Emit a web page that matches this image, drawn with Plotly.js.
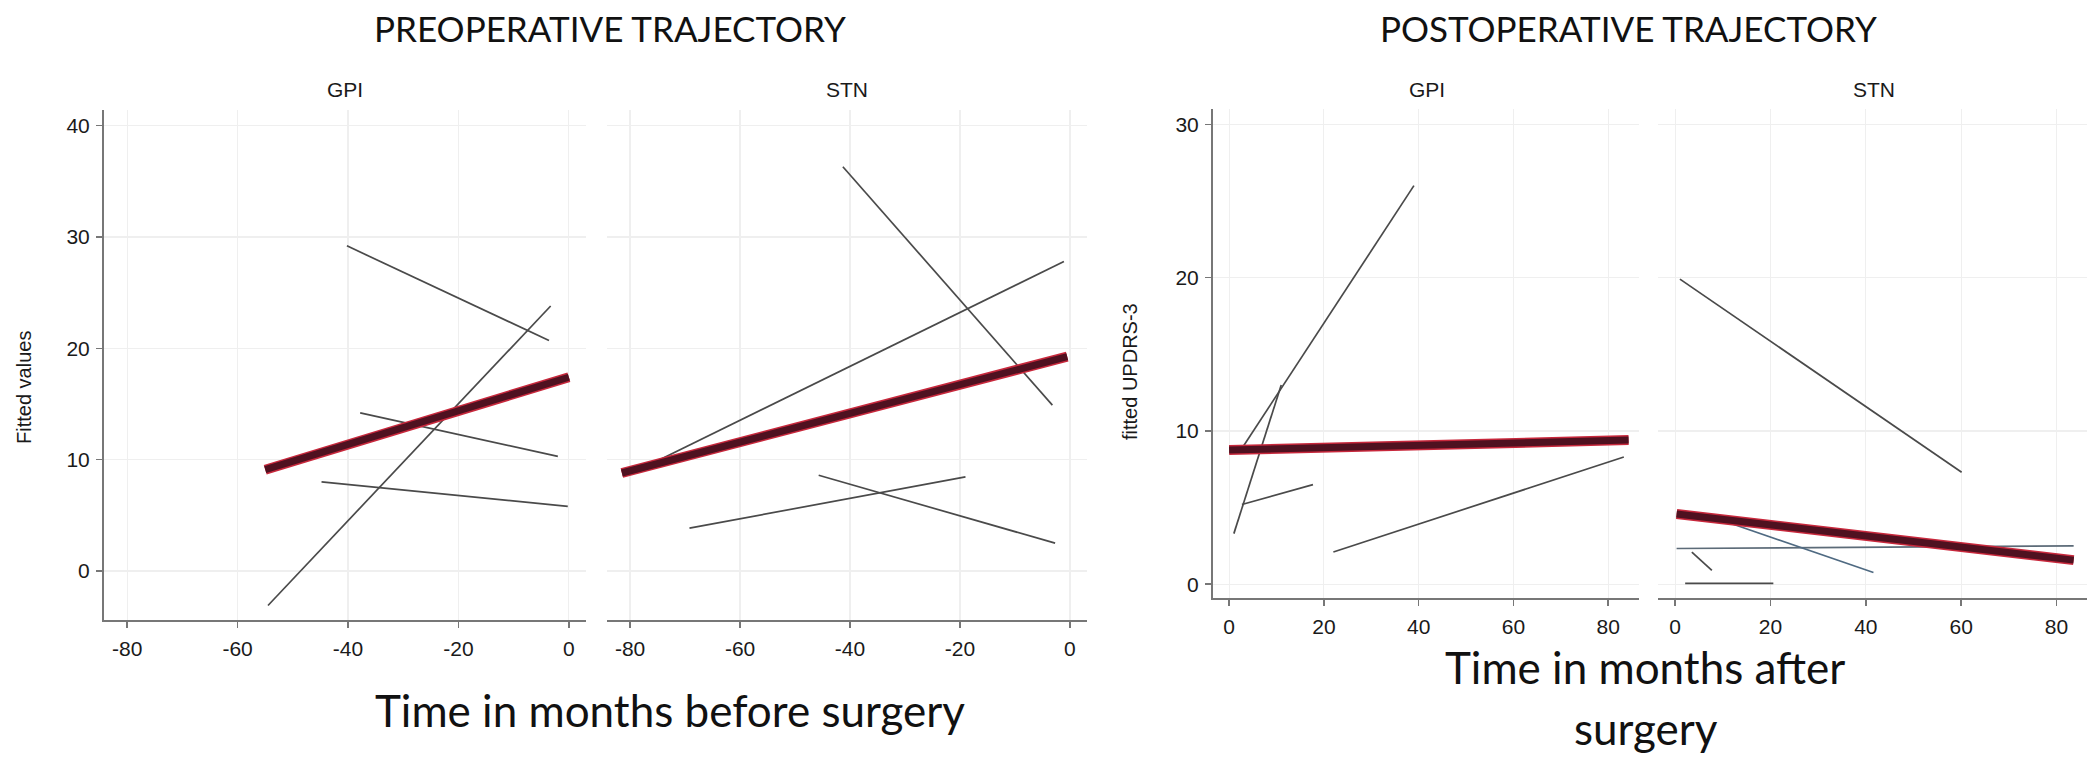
<!DOCTYPE html>
<html>
<head>
<meta charset="utf-8">
<script src="https://cdn.plot.ly/plotly-3.0.1.min.js"></script>
<style>
  html, body { margin: 0; padding: 0; background: #fff; }
  #plot { width: 2095px; height: 757px; }
</style>
</head>
<body>
<div id="plot"></div>
<script>
// individual fitted lines, one [start, end] pair per patient
const preGpiX = [[-54.5, -3.3], [-40.2, -3.6], [-37.8, -2.0], [-44.8, -0.2]];
const preGpiY = [[-3.1, 23.8], [29.2, 20.7], [14.2, 10.3], [8.0, 5.8]];
const preStnX = [[-75, -1.1], [-41.3, -3.2], [-69.2, -19.0], [-45.7, -2.7]];
const preStnY = [[9.9, 27.8], [36.3, 14.9], [3.85, 8.45], [8.6, 2.5]];

const postGpiX = [[1.0, 11.0], [3.0, 39.0], [2.7, 17.7], [22.0, 83.3]];
const postGpiY = [[3.3, 13.0], [9.0, 26.0], [5.2, 6.5], [2.1, 8.3]];
const postStnX = [[1.0, 60.1], [0.3, 83.6], [9.0, 41.6], [3.5, 7.7], [2.1, 20.6]];
const postStnY = [[19.9, 7.3], [2.33, 2.5], [4.25, 0.76], [2.1, 0.9], [0.05, 0.05]];
const postStnTint = ["#4a4a4a", "#5c6b78", "#4f6a82", "#4a4a4a", "#4a4a4a"];

// group mean trajectories (thick red)
const preGpiMeanX = [-55, 0];     const preGpiMeanY = [9.1, 17.4];
const preStnMeanX = [-81.5, -0.5]; const preStnMeanY = [8.8, 19.25];
const postGpiMeanX = [0, 84.3];   const postGpiMeanY = [8.75, 9.4];
const postStnMeanX = [0.3, 83.6]; const postStnMeanY = [4.58, 1.57];

const preTicks = [-80, -60, -40, -20, 0];
const postTicks = [0, 20, 40, 60, 80];
const preYTicks = [0, 10, 20, 30, 40];
const postYTicks = [0, 10, 20, 30];

const THIN = "#4a4a4a";

function thinTraces(xs, ys, xa, ya, colors){
  return xs.map((x, i) => ({
    type: "scatter", mode: "lines", x: x, y: ys[i],
    xaxis: xa, yaxis: ya,
    line: {color: colors ? colors[i] : THIN, width: 1.7},
    hoverinfo: "skip", showlegend: false
  }));
}

function meanTraces(x, y, xa, ya){
  // red halo under a dark maroon core
  return [
    {type: "scatter", mode: "lines", x: x, y: y, xaxis: xa, yaxis: ya,
     line: {color: "#c8283c", width: 10}, hoverinfo: "skip", showlegend: false},
    {type: "scatter", mode: "lines", x: x, y: y, xaxis: xa, yaxis: ya,
     line: {color: "#4f1120", width: 7}, hoverinfo: "skip", showlegend: false}
  ];
}

const data = [
  ...thinTraces(preGpiX, preGpiY, "x", "y"),
  ...meanTraces(preGpiMeanX, preGpiMeanY, "x", "y"),
  ...thinTraces(preStnX, preStnY, "x2", "y"),
  ...meanTraces(preStnMeanX, preStnMeanY, "x2", "y"),
  ...thinTraces(postGpiX, postGpiY, "x3", "y2"),
  ...meanTraces(postGpiMeanX, postGpiMeanY, "x3", "y2"),
  ...thinTraces(postStnX, postStnY, "x4", "y2", postStnTint),
  ...meanTraces(postStnMeanX, postStnMeanY, "x4", "y2")
];

const W = 2095, H = 757;
const px = v => v / W;
const py = v => 1 - v / H;

const tickFont = {family: "Liberation Sans, Arial, sans-serif", size: 21, color: "#1a1a1a"};

function xAxis(dom, range, ticks, anchor){
  return {
    domain: [px(dom[0]), px(dom[1])], range: range, anchor: anchor,
    tickmode: "array", tickvals: ticks, ticktext: ticks.map(String),
    ticks: "outside", ticklen: 6, tickcolor: "#777", tickwidth: 1.5,
    ticklabelstandoff: 3,
    showline: true, linecolor: "#777", linewidth: 2,
    showgrid: true, gridcolor: "#efefef", gridwidth: 1.2,
    zeroline: false, tickfont: tickFont, fixedrange: true
  };
}
function yAxis(dom, range, ticks, anchor){
  return {
    domain: [py(dom[1]), py(dom[0])], range: range, anchor: anchor,
    tickmode: "array", tickvals: ticks, ticktext: ticks.map(String),
    ticks: "outside", ticklen: 6, tickcolor: "#777", tickwidth: 1.5,
    ticklabelstandoff: 2,
    showline: true, linecolor: "#777", linewidth: 2,
    showgrid: true, gridcolor: "#efefef", gridwidth: 1.2,
    zeroline: false, tickfont: tickFont, fixedrange: true
  };
}

const titleFont = {family: "Lato, Open Sans, sans-serif", size: 35, color: "#111"};
const axisTitleFont = {family: "Lato, Open Sans, sans-serif", size: 44, color: "#111"};
const panelFont = {family: "Liberation Sans, Arial, sans-serif", size: 21, color: "#1a1a1a"};
const yTitleFont = {family: "Liberation Sans, Arial, sans-serif", size: 20, color: "#1a1a1a"};

function note(text, x, y, font, extra){
  return Object.assign({
    text: text, x: px(x), y: py(y), xref: "paper", yref: "paper",
    xanchor: "center", yanchor: "middle", showarrow: false, font: font
  }, extra || {});
}

const layout = {
  width: W, height: H,
  margin: {l: 0, r: 0, t: 0, b: 0},
  paper_bgcolor: "#fff", plot_bgcolor: "#fff",
  showlegend: false,
  xaxis: xAxis([104, 586], [-84.2, 3.1], preTicks, "y"),
  xaxis2: xAxis([607, 1087], [-84.2, 3.1], preTicks, "y"),
  xaxis3: xAxis([1213, 1639], [-3.4, 86.5], postTicks, "y2"),
  xaxis4: xAxis([1658, 2087], [-3.6, 86.4], postTicks, "y2"),
  yaxis: yAxis([110, 620], [-4.4, 41.4], preYTicks, "x"),
  yaxis2: yAxis([109, 598], [-0.9, 31], postYTicks, "x3"),
  annotations: [
    note("PREOPERATIVE TRAJECTORY", 610, 28, titleFont),
    note("POSTOPERATIVE TRAJECTORY", 1628, 28, titleFont),
    note("GPI", 345, 89, panelFont),
    note("STN", 847, 89, panelFont),
    note("GPI", 1427, 90, panelFont),
    note("STN", 1874, 90, panelFont),
    note("Fitted values", 24, 388, yTitleFont, {textangle: -90}),
    note("fitted UPDRS-3", 1130, 372, yTitleFont, {textangle: -90}),
    note("Time in months before surgery", 670, 710, axisTitleFont),
    note("Time in months after", 1645, 667, axisTitleFont),
    note("surgery", 1646, 728, axisTitleFont)
  ]
};

Plotly.newPlot("plot", data, layout, {displayModeBar: false, staticPlot: true});
</script>
</body>
</html>
